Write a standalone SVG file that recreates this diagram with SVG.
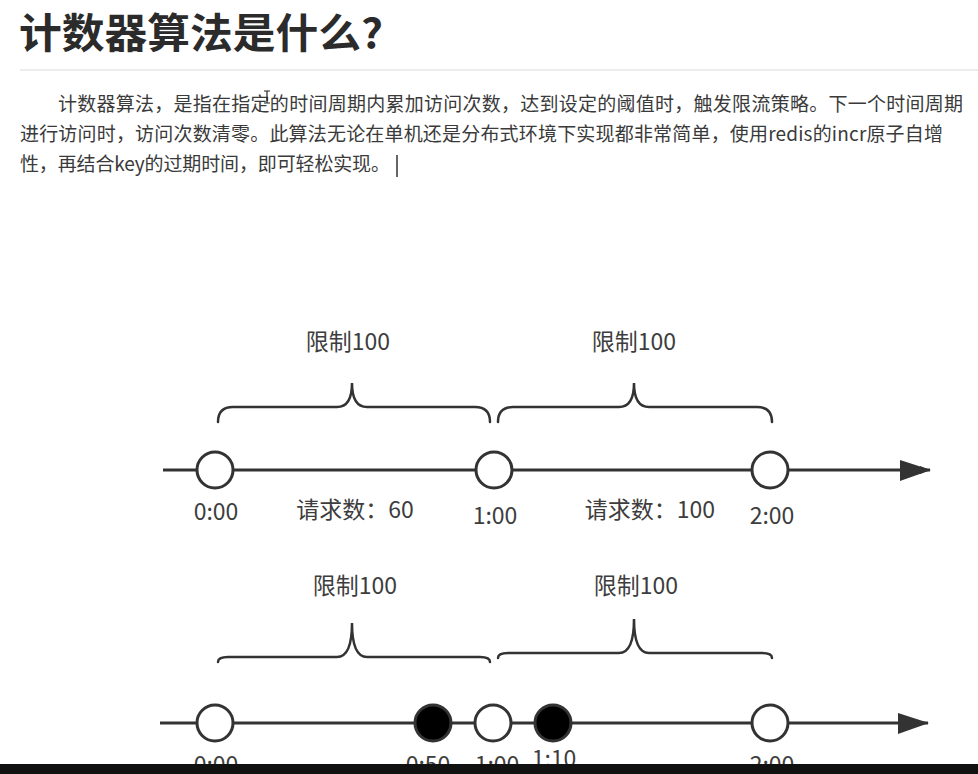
<svg xmlns="http://www.w3.org/2000/svg" width="978" height="774" viewBox="0 0 978 774">
<defs>
<style>
.title{font-family:"Noto Sans CJK SC","Noto Sans",sans-serif;font-weight:700;font-size:41px;fill:#2b2b2b}
.para{font-family:"Noto Sans CJK SC","Noto Sans",sans-serif;font-size:19px;fill:#3a3a3a}
.lbl{font-family:"Noto Sans CJK SC","Noto Sans",sans-serif;font-size:23px;fill:#3d3d3d;text-anchor:middle}
.axis{stroke:#333;stroke-width:3;fill:none}
.brace{stroke:#333;stroke-width:2.5;fill:none;stroke-linecap:round}
.open{fill:#fff;stroke:#333;stroke-width:3}
.full{fill:#000;stroke:#333;stroke-width:3}
</style>
<marker id="arr" markerWidth="10" markerHeight="8" refX="10" refY="4" orient="auto" markerUnits="userSpaceOnUse"><path d="M0,0 L10,4 L0,8 Z" fill="#333"/></marker>
</defs>
<rect width="978" height="774" fill="#fff"/>
<text class="title" x="19" y="48" textLength="364" lengthAdjust="spacingAndGlyphs">计数器算法是什么?</text>
<line x1="20" y1="70" x2="978" y2="70" stroke="#ececec" stroke-width="2"/>
<text class="para" x="58" y="111" textLength="905" lengthAdjust="spacing">计数器算法，是指在指定的时间周期内累加访问次数，达到设定的阈值时，触发限流策略。下一个时间周期</text>
<text class="para" x="20" y="141" textLength="923" lengthAdjust="spacing">进行访问时，访问次数清零。此算法无论在单机还是分布式环境下实现都非常简单，使用redis的incr原子自增</text>
<text class="para" x="20" y="171" textLength="370" lengthAdjust="spacing">性，再结合key的过期时间，即可轻松实现。</text>
<line x1="397" y1="155" x2="397" y2="177" stroke="#333" stroke-width="1.5"/>
<path d="M264,91 L270,91 M267,91 L267,103 M264,103 L270,103" stroke="#222" stroke-width="1.2" fill="none"/>

<g id="timeline1">
<path d="M218,422 Q218,407 233,407 L337,407 Q352,407 352,383 Q352,407 367,407 L475,407 Q490,407 490,422" class="brace"/>
<path d="M498,422 Q498,407 513,407 L619,407 Q634,407 634,383 Q634,407 649,407 L757,407 Q772,407 772,422" class="brace"/>
<text class="lbl" x="348" y="350">限制100</text>
<text class="lbl" x="634" y="350">限制100</text>
<line x1="163" y1="470" x2="930" y2="470" class="axis" marker-end="url(#arr)"/>
<path d="M900,460 L931,470 L900,481 Z" fill="#333"/>
</g>
<g id="n1-000"><circle cx="215" cy="470" r="18" class="open"/><text class="lbl" x="216" y="520">0:00</text></g>
<g id="n1-100"><circle cx="494" cy="470" r="18" class="open"/><text class="lbl" x="495" y="524">1:00</text></g>
<g id="n1-200"><circle cx="770" cy="470" r="18" class="open"/><text class="lbl" x="772" y="524">2:00</text></g>
<text class="lbl" x="355" y="518">请求数：60</text>
<text class="lbl" x="650" y="518">请求数：100</text>

<g id="timeline2">
<path d="M218,662 Q218,657 228,657 L337,657 Q352,657 352,623 Q352,657 367,657 L480,657 Q490,657 490,662" class="brace"/>
<path d="M498,658 Q498,653 508,653 L619,653 Q634,653 634,619 Q634,653 649,653 L762,653 Q772,653 772,658" class="brace"/>
<text class="lbl" x="355" y="594">限制100</text>
<text class="lbl" x="636" y="594">限制100</text>
<line x1="160" y1="723" x2="928" y2="723" class="axis"/>
<path d="M898,713 L929,723 L898,734 Z" fill="#333"/>
</g>
<g id="n2-000"><circle cx="215" cy="723" r="18" class="open"/><text class="lbl" x="216" y="773">0:00</text></g>
<g id="n2-050"><circle cx="433" cy="723" r="18" class="full"/><text class="lbl" x="428" y="773">0:50</text></g>
<g id="n2-100"><circle cx="493" cy="723" r="18" class="open"/><text class="lbl" x="497" y="773">1:00</text></g>
<g id="n2-110"><circle cx="553" cy="723" r="18" class="full"/><text class="lbl" x="554" y="767">1:10</text></g>
<g id="n2-200"><circle cx="770" cy="723" r="18" class="open"/><text class="lbl" x="772" y="773">2:00</text></g>
<rect x="0" y="764" width="978" height="10" fill="#111"/>
</svg>
